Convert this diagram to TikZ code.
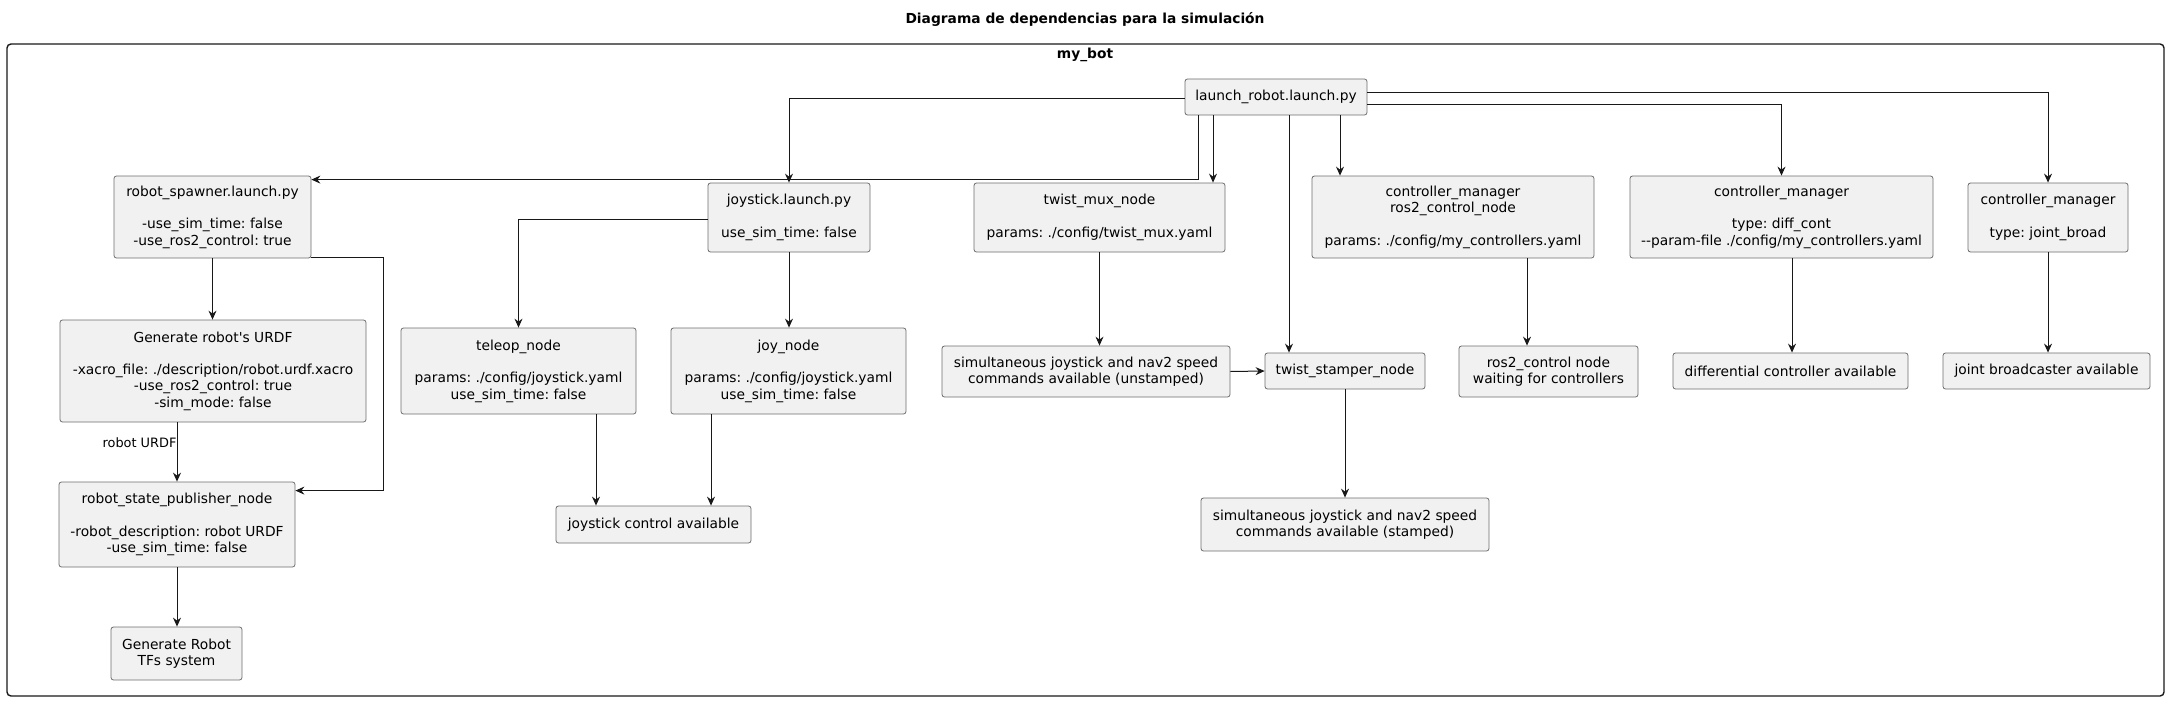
\documentclass[tikz,border=0pt]{standalone}
\usepackage{fontspec}
\setmainfont{DejaVu Sans}[Ligatures=TeXOff]
\usetikzlibrary{arrows.meta}
\frenchspacing
\definecolor{boxfill}{HTML}{F1F1F1}
\definecolor{boxdraw}{HTML}{6E6E6E}
\definecolor{lin}{HTML}{181818}
\tikzset{
  box/.style={draw=boxdraw, fill=boxfill, line width=0.8pt, rounded corners=2.5pt,
    inner sep=0pt, align=center, font=\frenchspacing\fontsize{13.8}{16.3}\selectfont},
  arr/.style={draw=lin, line width=1pt, -{Stealth[length=9pt,width=8pt,inset=3pt]}},
  lbl/.style={font=\fontsize{12.9}{15}\selectfont, inner sep=0pt}
}
\begin{document}
\begin{tikzpicture}[x=1pt,y=-1pt]
\useasboundingbox (0,0) rectangle (2171,701);
\node[font=\bfseries\fontsize{13.8}{16}\selectfont] (title) at (1085,19) {Diagrama de dependencias para la simulación};
\draw[lin, line width=1.4pt, rounded corners=4pt] (7,44) rectangle (2164,696);
\node[font=\bfseries\fontsize{13.8}{16}\selectfont] (pkg) at (1085,55) {my\_bot};

\node[box, minimum width=182, minimum height=36] (launch) at (1276,97) {launch\_robot.launch.py};
\node[box, minimum width=197, minimum height=82] (spawner) at (212.5,217) {robot\_spawner.launch.py\\[16.3pt]-use\_sim\_time: false\\-use\_ros2\_control: true};
\node[box, minimum width=162, minimum height=69] (jl) at (789,217.5) {joystick.launch.py\\[16.3pt]use\_sim\_time: false};
\node[box, minimum width=251, minimum height=69] (twistmux) at (1099.5,217.5) {twist\_mux\_node\\[16.3pt]params: ./config/twist\_mux.yaml};
\node[box, minimum width=282, minimum height=82] (cmros) at (1453,217) {controller\_manager\\ros2\_control\_node\\[16.3pt]params: ./config/my\_controllers.yaml};
\node[box, minimum width=303, minimum height=82] (cmdiff) at (1781.5,217) {controller\_manager\\[16.3pt]type: diff\_cont\\-{}-param-file ./config/my\_controllers.yaml};
\node[box, minimum width=160, minimum height=69] (cmjoint) at (2048,217.5) {controller\_manager\\[16.3pt]type: joint\_broad};

\node[box, minimum width=306, minimum height=102] (urdf) at (213,371) {Generate robot's URDF\\[16.3pt]-xacro\_file: ./description/robot.urdf.xacro\\-use\_ros2\_control: true\\-sim\_mode: false};
\node[box, minimum width=235, minimum height=86] (teleop) at (518.5,371) {teleop\_node\\[16.3pt]params: ./config/joystick.yaml\\use\_sim\_time: false};
\node[box, minimum width=235, minimum height=86] (joy) at (788.5,371) {joy\_node\\[16.3pt]params: ./config/joystick.yaml\\use\_sim\_time: false};
\node[box, minimum width=288, minimum height=51] (unst) at (1086,371.5) {simultaneous joystick and nav2 speed\\commands available (unstamped)};
\node[box, minimum width=160, minimum height=36] (stamper) at (1345,371) {twist\_stamper\_node};
\node[box, minimum width=179, minimum height=51] (waiting) at (1548.5,371.5) {ros2\_control node\\waiting for controllers};
\node[box, minimum width=235, minimum height=36] (diffav) at (1790.5,371) {differential controller available};
\node[box, minimum width=207, minimum height=36] (jointav) at (2046.5,371) {joint broadcaster available};

\node[box, minimum width=236, minimum height=85] (rsp) at (177,524.5) {robot\_state\_publisher\_node\\[16.3pt]-robot\_description: robot URDF\\-use\_sim\_time: false};
\node[box, minimum width=195, minimum height=37] (joyav) at (653.5,524.5) {joystick control available};
\node[box, minimum width=288, minimum height=53] (stamped) at (1345,524.5) {simultaneous joystick and nav2 speed\\commands available (stamped)};
\node[box, minimum width=131, minimum height=53] (tfs) at (176.5,653.5) {Generate Robot\\TFs system};

% launch_robot edges
\draw[arr] ([xshift=-78]launch.south) |- ([yshift=-4]spawner.north east);
\draw[arr] ([yshift=-1]launch.west) -| (jl.north);
\draw[arr] ([xshift=-63]launch.south) -- ([xshift=-63]launch.south |- twistmux.north);
\draw[arr] ([xshift=13]launch.south) -- ([xshift=13]launch.south |- stamper.north);
\draw[arr] ([xshift=64]launch.south) -- ([xshift=64]launch.south |- cmros.north);
\draw[arr] ([yshift=-7]launch.east) -| (cmdiff.north);
\draw[arr] ([yshift=5]launch.east) -| (cmjoint.north);

% spawner branch
\draw[arr] (spawner.south) -- (spawner.south |- urdf.north);
\draw[arr] ([yshift=1]spawner.south east) -- ++(72,0) |- ([yshift=-9]rsp.north east);
\draw[arr] ([xshift=-36]urdf.south) -- node[lbl, anchor=east, pos=0.35] {robot URDF} (rsp.north);
\draw[arr] (rsp.south) -- (rsp.south |- tfs.north);

% joystick branch
\draw[arr] ([yshift=-1.5]jl.west) -| (teleop.north);
\draw[arr] (jl.south) -- (jl.south |- joy.north);
\draw[arr] ([xshift=77.5]teleop.south) -- ([xshift=77.5]teleop.south |- joyav.north);
\draw[arr] ([xshift=-77.5]joy.south) -- ([xshift=-77.5]joy.south |- joyav.north);

% twist branch
\draw[arr] (twistmux.south) -- (twistmux.south |- unst.north);
\draw[arr] (unst.east) -- (stamper.west);
\draw[arr] (stamper.south) -- (stamped.north);

% controllers
\draw[arr] ([xshift=74]cmros.south) -- ([xshift=74]cmros.south |- waiting.north);
\draw[arr] ([xshift=10.5]cmdiff.south) -- ([xshift=10.5]cmdiff.south |- diffav.north);
\draw[arr] (cmjoint.south) -- (cmjoint.south |- jointav.north);
\end{tikzpicture}
\end{document}
